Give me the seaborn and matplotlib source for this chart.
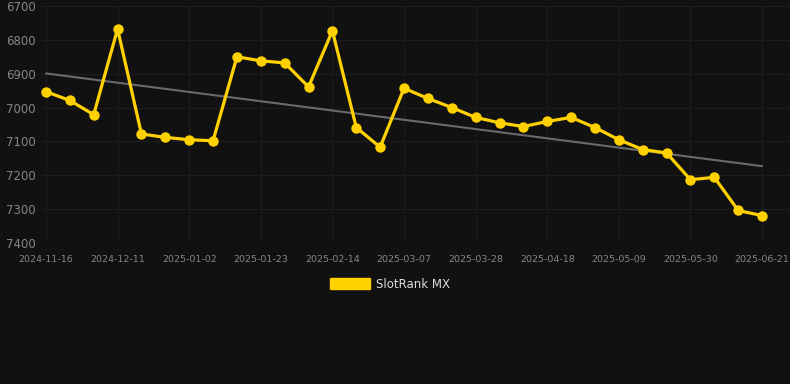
import numpy as np
import pandas as pd
import matplotlib
matplotlib.use('Agg')
import matplotlib.pyplot as plt
from matplotlib.patches import Patch
import seaborn as sns

# weekly rank snapshots
dates = ['2024-11-16', '2024-11-23', '2024-11-30', '2024-12-11', '2024-12-18', '2024-12-25',
         '2025-01-02', '2025-01-09', '2025-01-16', '2025-01-23', '2025-01-30', '2025-02-07',
         '2025-02-14', '2025-02-21', '2025-02-28', '2025-03-07', '2025-03-14', '2025-03-21',
         '2025-03-28', '2025-04-04', '2025-04-11', '2025-04-18', '2025-04-25', '2025-05-02',
         '2025-05-09', '2025-05-16', '2025-05-23', '2025-05-30', '2025-06-06', '2025-06-13',
         '2025-06-21']
rank = [6953, 6979, 7021, 6768, 7078, 7088, 7095, 7098, 6850, 6862, 6868, 6939,
        6773, 7059, 7117, 6943, 6973, 7000, 7029, 7045, 7056, 7041, 7029, 7059,
        7095, 7124, 7134, 7213, 7206, 7304, 7319]
series_name = 'SlotRank MX'
y_ticks = [6700, 6800, 6900, 7000, 7100, 7200, 7300, 7400]

bg = '#111111'
gold = '#FFD100'

df = pd.DataFrame({'date': dates, 'rank': rank})
df['idx'] = np.arange(len(df))

sns.set_theme(style='dark')
plt.rcParams['font.family'] = ['DejaVu Sans']

fig = plt.figure(figsize=(7.9, 3.84), dpi=100, facecolor=bg)
ax = fig.add_axes([40/790, 1 - 243/384, 750/790, 237/384])
ax.set_facecolor(bg)

# trend line from a linear fit
coef = np.polyfit(df['idx'], df['rank'], 1)
df['trend'] = np.polyval(coef, df['idx'])
sns.lineplot(data=df, x='idx', y='trend', ax=ax, color='#6a6a6a', linewidth=1.5)

sns.lineplot(data=df, x='idx', y='rank', ax=ax, color=gold, linewidth=2.3,
             marker='o', markersize=7.5, markeredgewidth=0)

ax.set_ylim(7400, 6700)
ax.set_yticks(y_ticks)
ax.set_xlim(-0.25, 31.17)
tick_pos = df['idx'][::3]
ax.set_xticks(tick_pos)
ax.set_xticklabels(df['date'][::3])
ax.tick_params(axis='y', colors='#858585', labelsize=8.5, length=0, pad=3)
ax.tick_params(axis='x', colors='#858585', labelsize=6.8, length=0, pad=9)
ax.grid(True, color='#1d1d1d', linewidth=0.8)
ax.set_xlabel('')
ax.set_ylabel('')
for s in ax.spines.values():
    s.set_visible(False)
ax.axhline(7400, color='#292929', linewidth=0.8)

handle = Patch(facecolor=gold, edgecolor=gold)
fig.legend([handle], [series_name], loc='center', bbox_to_anchor=(390/790, 1 - 284/384),
           frameon=False, fontsize=8.5, labelcolor='#dcdcdc',
           handlelength=3.4, handleheight=1.0, handletextpad=0.5)

fig.savefig('out.png', dpi=100, facecolor=bg)
